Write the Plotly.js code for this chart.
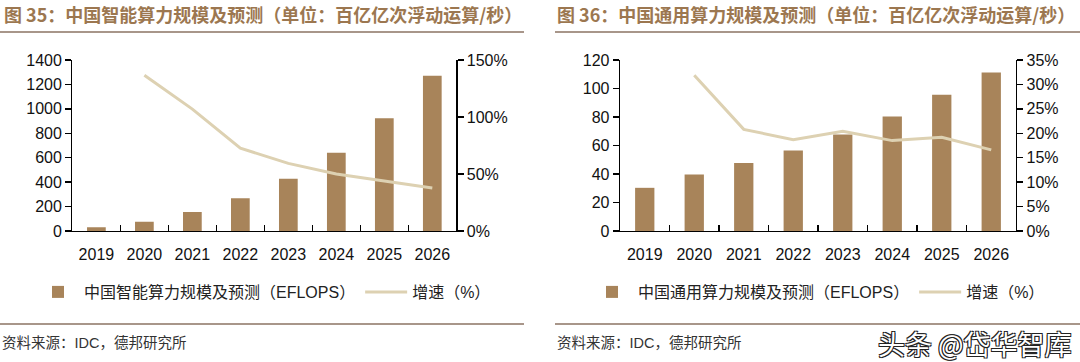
<!DOCTYPE html>
<html>
<head>
<meta charset="utf-8">
<script src="https://cdn.plot.ly/plotly-3.0.1.min.js"></script>
<style>
html,body{margin:0;padding:0;background:#fff;}
#chart{width:1080px;height:362px;}
</style>
</head>
<body>
<div id="chart"></div>
<script>
// ---- data ----
const years = ["2019","2020","2021","2022","2023","2024","2025","2026"];
const growthYears = ["2020","2021","2022","2023","2024","2025","2026"];

const aiCompute = [31.7, 75.0, 155.2, 268.0, 427.0, 640.7, 922.8, 1271.4];
const aiGrowth = [1.366, 1.069, 0.727, 0.593, 0.500, 0.440, 0.378];

const generalCompute = [30.3, 39.6, 47.7, 56.5, 67.7, 80.4, 95.6, 111.3];
const generalGrowth = [0.319, 0.208, 0.187, 0.204, 0.185, 0.192, 0.166];

const leftTitle = "图 35：中国智能算力规模及预测（单位：百亿亿次浮动运算/秒）";
const rightTitle = "图 36：中国通用算力规模及预测（单位：百亿亿次浮动运算/秒）";
const leftBarName = "中国智能算力规模及预测（EFLOPS）";
const rightBarName = "中国通用算力规模及预测（EFLOPS）";
const growthName = "增速（%）";
const sourceText = "资料来源：IDC，德邦研究所";
const watermark = "头条 @岱华智库";

// ---- style ----
const BAR = "#A8845A";
const LINE = "#DDD1B2";
const TITLE = "#9C7750";
const RULE = "#A8968A";
const FONT = "Liberation Sans, Arial, Noto Sans CJK SC, sans-serif";
const CJK = "Noto Sans CJK SC, sans-serif";

const traces = [
  {type:"bar", x:years, y:aiCompute, name:leftBarName, xaxis:"x", yaxis:"y",
   marker:{color:BAR}, legend:"legend", hoverinfo:"skip"},
  {type:"scatter", mode:"lines", x:growthYears, y:aiGrowth, name:growthName, xaxis:"x", yaxis:"y2",
   line:{color:LINE, width:3}, legend:"legend", hoverinfo:"skip"},
  {type:"bar", x:years, y:generalCompute, name:rightBarName, xaxis:"x2", yaxis:"y3",
   marker:{color:BAR}, legend:"legend2", hoverinfo:"skip"},
  {type:"scatter", mode:"lines", x:growthYears, y:generalGrowth, name:growthName, xaxis:"x2", yaxis:"y4",
   line:{color:LINE, width:3}, legend:"legend2", hoverinfo:"skip"}
];

const W = 1080, H = 362;
const px = v => v / W;
const py = v => 1 - v / H;

const yDom = [py(231), py(60)];
const xDomL = [px(72.4), px(456.3)];
const xDomR = [px(620), px(1016)];

const xAxisBase = {
  type:"category", showgrid:false, zeroline:false,
  showline:true, linecolor:"#000", linewidth:1.3,
  ticks:"inside", tickson:"boundaries", ticklen:6, tickcolor:"#000", tickwidth:1.3,
  ticklabelstandoff:8,
  tickfont:{family:FONT, size:16, color:"#111"}, fixedrange:true
};
const yAxisBase = {
  showgrid:false, zeroline:false, showline:true, linecolor:"#000", linewidth:1.3,
  ticks:"outside", ticklen:6, tickcolor:"#000", tickwidth:1.3,
  tickfont:{family:FONT, size:16, color:"#111"}, fixedrange:true
};

const legendBase = {orientation:"h", yanchor:"middle", y:py(292),
  font:{family:FONT, size:16, color:"#222"}, itemwidth:42, tracegroupgap:0,
  bgcolor:"rgba(0,0,0,0)"};

const layout = {
  width:W, height:H,
  margin:{l:0, r:0, t:0, b:0},
  paper_bgcolor:"#fff", plot_bgcolor:"rgba(0,0,0,0)",
  bargap:0.61,
  showlegend:true,
  xaxis: Object.assign({}, xAxisBase, {domain:xDomL, anchor:"y"}),
  yaxis: Object.assign({}, yAxisBase, {domain:yDom, anchor:"x", range:[0,1400], dtick:200}),
  yaxis2: Object.assign({}, yAxisBase, {overlaying:"y", side:"right", anchor:"x",
           range:[0,1.5], dtick:0.5, tickformat:".0%"}),
  xaxis2: Object.assign({}, xAxisBase, {domain:xDomR, anchor:"y3"}),
  yaxis3: Object.assign({}, yAxisBase, {domain:yDom, anchor:"x2", range:[0,120], dtick:20}),
  yaxis4: Object.assign({}, yAxisBase, {overlaying:"y3", side:"right", anchor:"x2",
           range:[0,0.35], dtick:0.05, tickformat:".0%"}),
  legend: Object.assign({}, legendBase, {x:px(264), xanchor:"center"}),
  legend2: Object.assign({}, legendBase, {x:px(818), xanchor:"center"}),
  shapes:[
    {type:"line", xref:"paper", yref:"paper", x0:0, x1:px(524), y0:py(32), y1:py(32),
     line:{color:RULE, width:2}},
    {type:"line", xref:"paper", yref:"paper", x0:px(555), x1:1, y0:py(32), y1:py(32),
     line:{color:RULE, width:2}},
    {type:"line", xref:"paper", yref:"paper", x0:0, x1:px(524), y0:py(324), y1:py(324),
     line:{color:RULE, width:2}},
    {type:"line", xref:"paper", yref:"paper", x0:px(555), x1:1, y0:py(324), y1:py(324),
     line:{color:RULE, width:2}}
  ],
  annotations:[
    {text:"<b>"+leftTitle+"</b>", xref:"paper", yref:"paper", x:px(2), y:py(14),
     xanchor:"left", yanchor:"middle", showarrow:false,
     font:{family:CJK, size:18, color:TITLE}},
    {text:"<b>"+rightTitle+"</b>", xref:"paper", yref:"paper", x:px(555), y:py(14),
     xanchor:"left", yanchor:"middle", showarrow:false,
     font:{family:CJK, size:18, color:TITLE}},
    {text:sourceText, xref:"paper", yref:"paper", x:0, y:py(343),
     xanchor:"left", yanchor:"middle", showarrow:false,
     font:{family:FONT, size:14.5, color:"#333"}},
    {text:sourceText, xref:"paper", yref:"paper", x:px(555), y:py(343),
     xanchor:"left", yanchor:"middle", showarrow:false,
     font:{family:FONT, size:14.5, color:"#333"}},
    {text:watermark, xref:"paper", yref:"paper", x:px(1074), y:py(343),
     xanchor:"right", yanchor:"middle", showarrow:false,
     font:{family:CJK, size:27, color:"#ffffff",
           shadow:"1px 1px 0 #222, -1px -1px 0 #222, 1px -1px 0 #222, -1px 1px 0 #222"}}
  ]
};

Plotly.newPlot("chart", traces, layout, {displayModeBar:false, staticPlot:true});
</script>
</body>
</html>
